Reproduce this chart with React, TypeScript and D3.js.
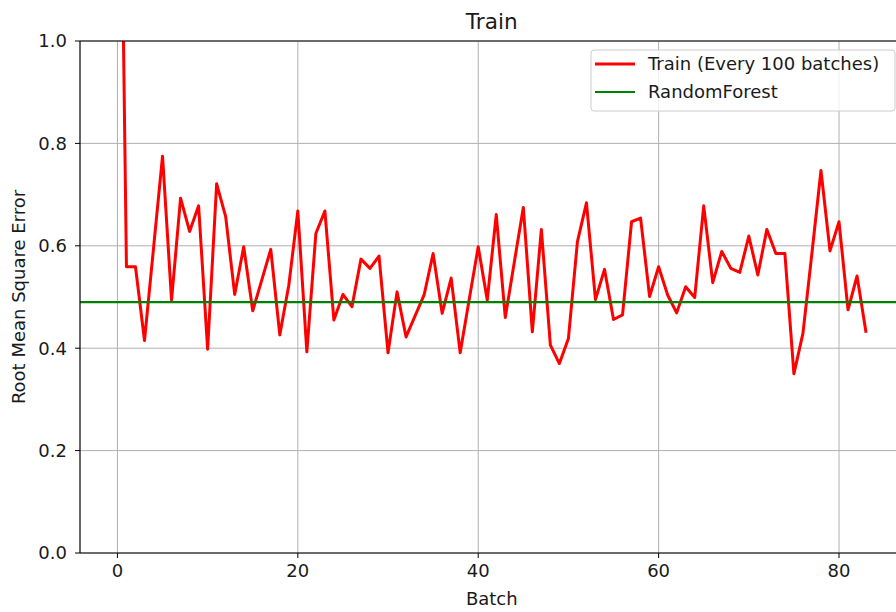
import * as React from "react";
import * as d3 from "d3";

// RMSE per logged step (every 100 batches)
const trainRmse: number[] = [
  1.9, 0.559, 0.559, 0.415, 0.595, 0.775, 0.494, 0.693, 0.628, 0.678,
  0.398, 0.721, 0.657, 0.505, 0.598, 0.473, 0.533, 0.593, 0.426, 0.523,
  0.668, 0.393, 0.624, 0.668, 0.455, 0.505, 0.481, 0.574, 0.556, 0.58,
  0.391, 0.51, 0.422, 0.463, 0.504, 0.585, 0.468, 0.537, 0.391, 0.495,
  0.598, 0.494, 0.661, 0.46, 0.568, 0.675, 0.432, 0.632, 0.406, 0.37,
  0.419, 0.608, 0.684, 0.495, 0.554, 0.456, 0.465, 0.647, 0.654, 0.501,
  0.559, 0.504, 0.469, 0.52, 0.499, 0.678, 0.528, 0.589, 0.556, 0.548,
  0.619, 0.543, 0.632, 0.585, 0.585, 0.35, 0.429, 0.586, 0.747, 0.59,
  0.647, 0.475, 0.541, 0.43,
];
const randomForestRmse = 0.49;

const xTicks = [0, 20, 40, 60, 80];
const yTicks = [0, 0.2, 0.4, 0.6, 0.8, 1.0];
const legendLabels = ["Train (Every 100 batches)", "RandomForest"];

const width = 896;
const height = 612;
const marginLeft = 80;
const marginTop = 41;
const plotBottom = 553;
const plotRight = 903.5;
const font = "DejaVu Sans";
const fs = 18;

const App: React.FC = () => {
  const n = trainRmse.length - 1;
  const pad = n * 0.05;

  const x = d3.scaleLinear().domain([-pad, n + pad]).range([marginLeft, plotRight]);
  const y = d3.scaleLinear().domain([0, 1]).range([plotBottom, marginTop]);

  const line = d3
    .line<number>()
    .x((d, i) => x(i))
    .y((d) => y(d));

  return (
    <div style={{ position: "absolute", left: 0, top: 0 }}>
      <svg width={width} height={height} style={{ display: "block", background: "white" }} fontFamily={font}>
        <defs>
          <clipPath id="plot">
            <rect x={marginLeft} y={marginTop} width={plotRight - marginLeft} height={plotBottom - marginTop} />
          </clipPath>
        </defs>

        {/* grid */}
        <g stroke="#b0b0b0" strokeWidth={1}>
          {xTicks.map((t) => (
            <line key={"gx" + t} x1={x(t)} x2={x(t)} y1={marginTop} y2={plotBottom} />
          ))}
          {yTicks.map((t) => (
            <line key={"gy" + t} x1={marginLeft} x2={plotRight} y1={y(t)} y2={y(t)} />
          ))}
        </g>

        <g clipPath="url(#plot)">
          <path d={line(trainRmse) || undefined} fill="none" stroke="#ff0000" strokeWidth={3} strokeLinejoin="round" />
          <line x1={marginLeft} x2={plotRight} y1={y(randomForestRmse)} y2={y(randomForestRmse)} stroke="#008000" strokeWidth={2.2} />
        </g>

        {/* spines */}
        <g stroke="black" strokeWidth={1.2} fill="none">
          <line x1={marginLeft} x2={marginLeft} y1={marginTop} y2={plotBottom} />
          <line x1={marginLeft} x2={plotRight} y1={plotBottom} y2={plotBottom} />
          <line x1={marginLeft} x2={plotRight} y1={marginTop} y2={marginTop} />
          <line x1={plotRight} x2={plotRight} y1={marginTop} y2={plotBottom} />
        </g>

        {/* ticks */}
        <g fontSize={fs} fill="#1a1a1a">
          {xTicks.map((t) => (
            <g key={"xt" + t}>
              <line x1={x(t)} x2={x(t)} y1={plotBottom} y2={plotBottom + 5} stroke="black" />
              <text x={x(t)} y={plotBottom + 11} dy="0.71em" textAnchor="middle">
                {t}
              </text>
            </g>
          ))}
          {yTicks.map((t) => (
            <g key={"yt" + t}>
              <line x1={marginLeft - 5} x2={marginLeft} y1={y(t)} y2={y(t)} stroke="black" />
              <text x={marginLeft - 13} y={y(t)} dy="0.35em" textAnchor="end">
                {t.toFixed(1)}
              </text>
            </g>
          ))}
        </g>

        <text x={(marginLeft + plotRight) / 2} y={605} textAnchor="middle" fontSize={fs} fill="#1a1a1a">
          Batch
        </text>
        <text
          transform={`translate(25,${(marginTop + plotBottom) / 2}) rotate(-90)`}
          textAnchor="middle"
          fontSize={fs}
          fill="#1a1a1a"
        >
          Root Mean Square Error
        </text>
        <text x={(marginLeft + plotRight) / 2} y={29} textAnchor="middle" fontSize={21.6} fill="#1a1a1a">
          Train
        </text>

        {/* legend */}
        <g>
          <rect x={591} y={50} width={304} height={61} rx={3} fill="white" fillOpacity={0.8} stroke="#cccccc" />
          {legendLabels.map((label, i) => (
            <g key={label} transform={`translate(0,${64 + i * 28})`}>
              <line x1={595} x2={635} y1={0} y2={0} stroke={i === 0 ? "#ff0000" : "#008000"} strokeWidth={i === 0 ? 3 : 2.2} />
              <text x={648} y={0} dy="0.35em" fontSize={fs} fill="#1a1a1a">
                {label}
              </text>
            </g>
          ))}
        </g>
      </svg>
    </div>
  );
};

export default App;
